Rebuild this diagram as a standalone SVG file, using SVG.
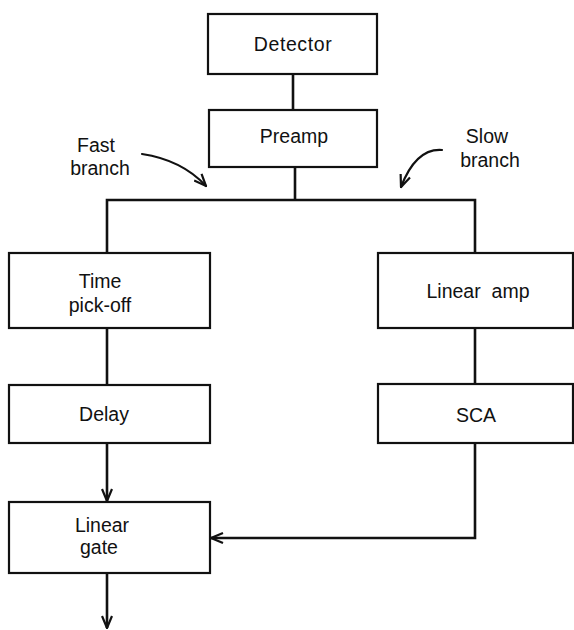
<svg xmlns="http://www.w3.org/2000/svg" width="574" height="630" viewBox="0 0 574 630">
<defs>
<style>
.box{fill:#fff;stroke:#111;stroke-width:2.2}
.t{font-family:"Liberation Sans",Arial,sans-serif;font-size:19.5px;fill:#111;text-anchor:middle}
.c{fill:none;stroke:#111;stroke-width:2.6}
.h{fill:none;stroke:#111;stroke-width:2.2;stroke-linecap:round;stroke-linejoin:round}
</style>
<marker id="ah" viewBox="0 0 14 12" refX="13" refY="6" markerWidth="14" markerHeight="12" markerUnits="userSpaceOnUse" orient="auto">
<path d="M1,1 L13,6 L1,11" fill="none" stroke="#111" stroke-width="2.2"/>
</marker>
</defs>
<rect width="574" height="630" fill="#fff"/>
<g id="connectors">
<line class="c" x1="293" y1="74" x2="293" y2="110"/>
<polyline class="c" points="107,253 107,200 475,200 475,253"/>
<line class="c" x1="295" y1="167" x2="295" y2="200"/>
<line class="c" x1="107" y1="328" x2="107" y2="385"/>
<line class="c" x1="107" y1="443" x2="107" y2="501" marker-end="url(#ah)"/>
<line class="c" x1="475" y1="328" x2="475" y2="384"/>
<polyline class="c" points="475,443 475,538 211,538" marker-end="url(#ah)"/>
<line class="c" x1="107" y1="573" x2="107" y2="628" marker-end="url(#ah)"/>
<path class="h" d="M142,154 Q182,160 206,186" marker-end="url(#ah)"/>
<path class="h" d="M442,150 Q416,148 401,187" marker-end="url(#ah)"/>
</g>
<g id="detector"><rect class="box" x="208" y="14" width="169" height="60"/><text class="t" x="293" y="51" letter-spacing="0.6">Detector</text></g>
<g id="preamp"><rect class="box" x="209" y="110" width="168" height="57"/><text class="t" x="294" y="143">Preamp</text></g>
<g id="fast-label"><text class="t" x="96" y="152">Fast</text><text class="t" x="100" y="175">branch</text></g>
<g id="slow-label"><text class="t" x="487" y="143">Slow</text><text class="t" x="490" y="167">branch</text></g>
<g id="time-pickoff"><rect class="box" x="9" y="253" width="201" height="75"/><text class="t" x="100" y="288">Time</text><text class="t" x="100" y="312">pick-off</text></g>
<g id="linear-amp"><rect class="box" x="378" y="253" width="195" height="75"/><text class="t" x="478" y="298">Linear&#160; amp</text></g>
<g id="delay"><rect class="box" x="9" y="385" width="201" height="58"/><text class="t" x="104" y="421">Delay</text></g>
<g id="sca"><rect class="box" x="378" y="384" width="195" height="59"/><text class="t" x="476" y="422">SCA</text></g>
<g id="linear-gate"><rect class="box" x="9" y="502" width="201" height="71"/><text class="t" x="102" y="532">Linear</text><text class="t" x="99" y="554">gate</text></g>
</svg>
